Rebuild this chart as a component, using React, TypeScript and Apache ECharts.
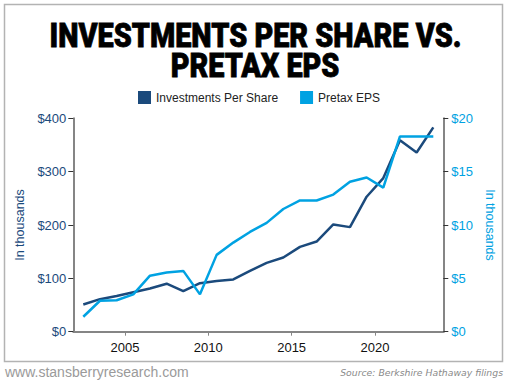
import React, { useEffect, useRef } from "react";
import * as echarts from "echarts";

const years = [2002, 2003, 2004, 2005, 2006, 2007, 2008, 2009, 2010, 2011, 2012, 2013, 2014, 2015, 2016, 2017, 2018, 2019, 2020, 2021, 2022, 2023];
const investmentsPerShare = [51, 61, 67, 74, 81, 90, 76, 91, 95, 98, 114, 129, 139, 159, 169, 201, 196, 253, 288, 359, 336, 383];
const pretaxEps = [1.4, 2.9, 2.95, 3.5, 5.25, 5.55, 5.7, 3.5, 7.2, 8.35, 9.35, 10.2, 11.5, 12.3, 12.3, 12.85, 14.05, 14.45, 13.5, 18.3, 18.3, 18.3];
const xTickYears = [2005, 2010, 2015, 2020];
const titleLines = ["INVESTMENTS PER SHARE VS.", "PRETAX EPS"];

const DARK = "#1b4a7c";
const LIGHT = "#00a2e2";
const AXIS = "#858585";
const FONT = "'Liberation Sans', Arial, sans-serif";

export default function App() {
  const ref = useRef<HTMLDivElement>(null);
  useEffect(() => {
    if (!ref.current) return;
    const chart = echarts.init(ref.current, null, { renderer: "svg" });
    const mid = 0.5;
    const titleStyle = {
      font: "900 33px Roboto, 'Liberation Sans', sans-serif",
      fill: "#000",
      stroke: "#000",
      lineWidth: 0.8,
      align: "center",
      verticalAlign: "middle",
    };
    chart.setOption({
      animation: false,
      backgroundColor: "#ffffff",
      textStyle: { fontFamily: FONT },
      grid: { left: 73.3, right: 66.7, top: 118.3, bottom: 51.3, containLabel: false },
      legend: {
        top: 86,
        left: 133,
        itemWidth: 13,
        itemHeight: 13,
        itemGap: 22,
        icon: "rect",
        textStyle: { fontSize: 12, color: "#222", fontFamily: FONT },
        data: ["Investments Per Share", "Pretax EPS"],
      },
      xAxis: {
        type: "value",
        min: 2001.9,
        max: 2024.1,
        splitLine: { show: false },
        axisLine: { show: true, lineStyle: { color: AXIS, width: 2 } },
        axisTick: { show: true, length: 4, lineStyle: { color: AXIS, width: 1 }, customValues: xTickYears },
        axisLabel: { customValues: xTickYears, margin: 9, fontSize: 13, color: "#111", fontFamily: FONT, formatter: (v: number) => String(v) },
      },
      yAxis: [
        {
          type: "value",
          min: 0,
          max: 400,
          interval: 100,
          position: "left",
          name: "In thousands",
          nameLocation: "middle",
          nameRotate: 90,
          nameGap: 45,
          nameTextStyle: { color: DARK, fontSize: 12.5, fontFamily: FONT },
          splitLine: { show: false },
          axisLine: { show: true, lineStyle: { color: AXIS, width: 2 } },
          axisTick: { show: true, length: 5, lineStyle: { color: "#333", width: 1 } },
          axisLabel: { margin: 7, fontSize: 13, color: DARK, fontFamily: FONT, formatter: (v: number) => "$" + v },
        },
        {
          type: "value",
          min: 0,
          max: 20,
          interval: 5,
          position: "right",
          name: "In thousands",
          nameLocation: "middle",
          nameRotate: -90,
          nameGap: 37,
          nameTextStyle: { color: LIGHT, fontSize: 12.5, fontFamily: FONT },
          splitLine: { show: false },
          axisLine: { show: true, lineStyle: { color: AXIS, width: 2 } },
          axisTick: { show: true, length: 5, lineStyle: { color: "#333", width: 1 } },
          axisLabel: { margin: 8, fontSize: 13, color: LIGHT, fontFamily: FONT, formatter: (v: number) => "$" + v },
        },
      ],
      series: [
        {
          name: "Investments Per Share",
          type: "line",
          yAxisIndex: 0,
          data: years.map((y, i) => [y + mid, investmentsPerShare[i]]),
          showSymbol: false,
          symbol: "none",
          itemStyle: { color: DARK },
          lineStyle: { color: DARK, width: 2.5 },
          z: 2,
        },
        {
          name: "Pretax EPS",
          type: "line",
          yAxisIndex: 1,
          data: years.map((y, i) => [y + mid, pretaxEps[i]]),
          showSymbol: false,
          symbol: "none",
          itemStyle: { color: LIGHT },
          lineStyle: { color: LIGHT, width: 2.5 },
          z: 3,
        },
      ],
      graphic: [
        {
          type: "rect",
          shape: { x: 4.5, y: 4.5, width: 498, height: 357 },
          style: { fill: "none", stroke: "#b3b3b3", lineWidth: 1.5 },
          silent: true,
        },
        {
          type: "text",
          x: 255.5,
          y: 36,
          scaleX: 0.874,
          style: { ...titleStyle, text: titleLines[0] },
        },
        {
          type: "text",
          x: 255,
          y: 66,
          scaleX: 0.874,
          style: { ...titleStyle, text: titleLines[1] },
        },
        {
          type: "text",
          x: 5,
          y: 372,
          style: {
            text: "www.stansberryresearch.com",
            font: "14px 'Liberation Sans', Arial, sans-serif",
            fill: "#9a9a9a",
            align: "left",
            verticalAlign: "middle",
          },
        },
        {
          type: "text",
          x: 503,
          y: 372,
          style: {
            text: "Source: Berkshire Hathaway filings",
            font: "italic 9.3px 'DejaVu Sans', sans-serif",
            fill: "#8a8a8a",
            align: "right",
            verticalAlign: "middle",
          },
        },
      ],
    });
    return () => chart.dispose();
  }, []);
  return <div ref={ref} style={{ position: "fixed", left: 0, top: 0, width: 510, height: 383 }} />;
}
